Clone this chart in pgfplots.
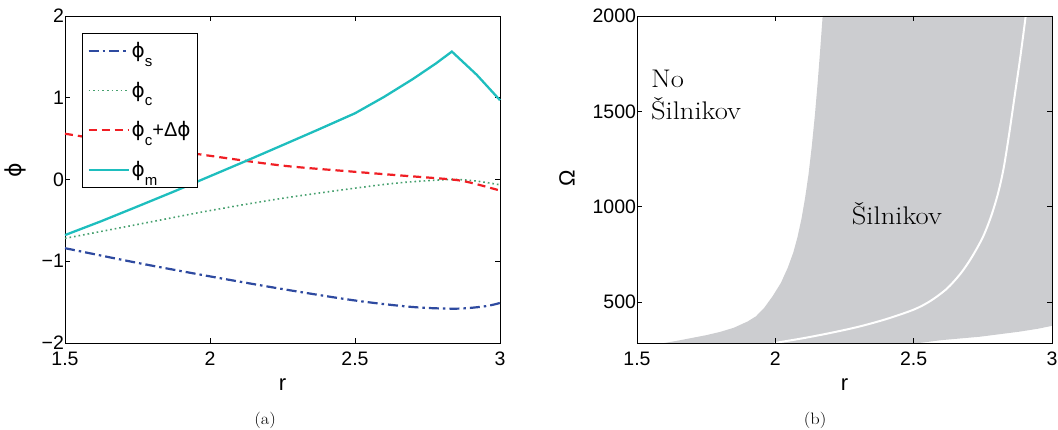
\documentclass[border=0pt]{standalone}
\usepackage{fontspec}
\usepackage{graphicx}
\usepackage{pgfplots}
\pgfplotsset{compat=1.18}
\newfontfamily\hv{Liberation Sans}
\newfontfamily\dvs{DejaVu Sans}
\definecolor{cblue}{RGB}{46,74,160}
\definecolor{cgreen}{RGB}{70,160,110}
\definecolor{cred}{RGB}{240,30,36}
\definecolor{ccyan}{RGB}{30,190,190}
\definecolor{shade}{RGB}{204,205,208}
\newcommand\ph{{\dvs ϕ}}
\newcommand\sub[1]{\raisebox{-0.42em}{\fontsize{15}{15}\selectfont #1}}
\newcommand\wide[1]{\scalebox{1.12}[1]{#1}}

\pgfplotsset{mstyle/.style={
  scale only axis, height=327pt, clip=false,
  xmin=1.5, xmax=3, xtick={1.5,2,2.5,3},
  tick align=inside, major tick length=5pt,
  axis line style={line width=0.9pt},
  every tick/.style={black, line width=0.8pt},
  tick label style={font=\hv\fontsize{19.5}{20}\selectfont},
  /pgf/number format/assume math mode=true,
  /pgf/number format/1000 sep={},
  scaled ticks=false,
  xticklabel style={yshift=-5.5pt},
  yticklabel style={xshift=2.5pt},
  label style={font=\hv\fontsize{22}{24}\selectfont},
}}

\begin{document}
\begin{tikzpicture}
\path[use as bounding box] (0pt,0pt) rectangle (1058pt,429pt);

% (a) potentials
\begin{axis}[mstyle, at={(65pt,86pt)}, anchor=south west, width=435pt,
  ymin=-2, ymax=2, ytick={-2,-1,0,1,2}, yticklabels={−2,−1,0,1,2},
  xlabel={r}, ylabel={\ph},
  xlabel style={at={(axis description cs:0.5,-0.128)}, anchor=center},
  ylabel style={at={(axis description cs:-0.115,0.529)}, anchor=center},
  legend style={at={(axis description cs:0.039,0.948)}, anchor=north west,
    draw=black, line width=0.8pt, font=\hv\fontsize{20}{21}\selectfont,
    inner xsep=5pt, inner ysep=7pt, row sep=19pt, cells={anchor=west}},
  legend image code/.code={\draw[#1] (0pt,0pt) -- (40pt,0pt);},
]
\addplot[cblue, line width=2.2pt, smooth, dash pattern=on 10pt off 4pt on 2.5pt off 4pt]
  coordinates {(1.5,-0.84) (1.75,-1.02) (2.0,-1.185) (2.25,-1.34) (2.5,-1.48)
  (2.7,-1.56) (2.85,-1.58) (2.95,-1.55) (3.0,-1.51)};
\addlegendentry{\ph\sub{s}}
\addplot[cgreen, line width=1.6pt, smooth, dash pattern=on 1.6pt off 3pt]
  coordinates {(1.5,-0.72) (1.75,-0.55) (2.0,-0.38) (2.25,-0.23) (2.5,-0.106)
  (2.655,-0.04) (2.83,0.0) (2.92,-0.02) (3.0,-0.065)};
\addlegendentry{\ph\sub{c}}
\addplot[cred, line width=2.2pt, smooth, dash pattern=on 8pt off 5pt]
  coordinates {(1.5,0.56) (1.75,0.42) (2.0,0.29) (2.25,0.17) (2.5,0.094)
  (2.655,0.05) (2.834,0.0) (2.9,-0.04) (3.0,-0.135)};
\addlegendentry{\ph\sub{c}+Δ\ph}
\addplot[ccyan, line width=2.3pt]
  coordinates {(1.5,-0.68) (1.625,-0.51) (1.75,-0.33) (1.875,-0.148) (2.0,0.04)
  (2.125,0.228) (2.25,0.42) (2.375,0.613) (2.5,0.81) (2.6,1.01) (2.7,1.23)
  (2.78,1.422) (2.834,1.565) (2.92,1.28) (3.0,0.97)};
\addlegendentry{\ph\sub{m}}
\node[font=\fontsize{16.5}{18}\selectfont] at (axis description cs:0.46,-0.2355) {\wide{(a)}};
\end{axis}

% (b) Silnikov region
\begin{axis}[mstyle, at={(637pt,86pt)}, anchor=south west, width=415pt,
  ymin=285, ymax=2000, ytick={500,1000,1500,2000},
  axis on top,
  xlabel={r}, ylabel={Ω},
  xlabel style={at={(axis description cs:0.5,-0.128)}, anchor=center},
  ylabel style={at={(axis description cs:-0.169,0.505)}, anchor=center},
]
\addplot[fill=shade, draw=none] coordinates {
  (1.599,285) (1.65,298) (1.70,312) (1.75,326) (1.80,343) (1.85,365)
  (1.90,398) (1.93,425) (1.96,470) (1.99,530) (2.02,600) (2.045,680)
  (2.065,760) (2.08,840) (2.095,940) (2.108,1050) (2.12,1170) (2.132,1320)
  (2.143,1480) (2.153,1650) (2.162,1820) (2.171,2000)
  (3,2000) (3,375) (2.95,360) (2.88,344) (2.74,318) (2.6,300) (2.52,285)} -- cycle;
\addplot[white, line width=2pt, smooth] coordinates {
  (1.997,285) (2.1,310) (2.2,338) (2.3,370) (2.4,410) (2.5,460) (2.56,505)
  (2.62,570) (2.67,650) (2.71,735) (2.75,840) (2.78,950) (2.805,1070)
  (2.825,1200) (2.845,1380) (2.865,1580) (2.885,1780) (2.905,2000)};
\node[anchor=north west, inner sep=0pt, font=\fontsize{25.5}{31.7}\selectfont]
  at (axis cs:1.55,1740) {\wide{\begin{tabular}{@{}l@{}}No\\Šilnikov\end{tabular}}};
\node[anchor=base west, inner sep=0pt, font=\fontsize{25.5}{30}\selectfont]
  at (axis cs:2.276,905) {\wide{Šilnikov}};
\node[font=\fontsize{16.5}{18}\selectfont] at (axis description cs:0.429,-0.2355) {\wide{(b)}};
\end{axis}
\end{tikzpicture}
\end{document}
